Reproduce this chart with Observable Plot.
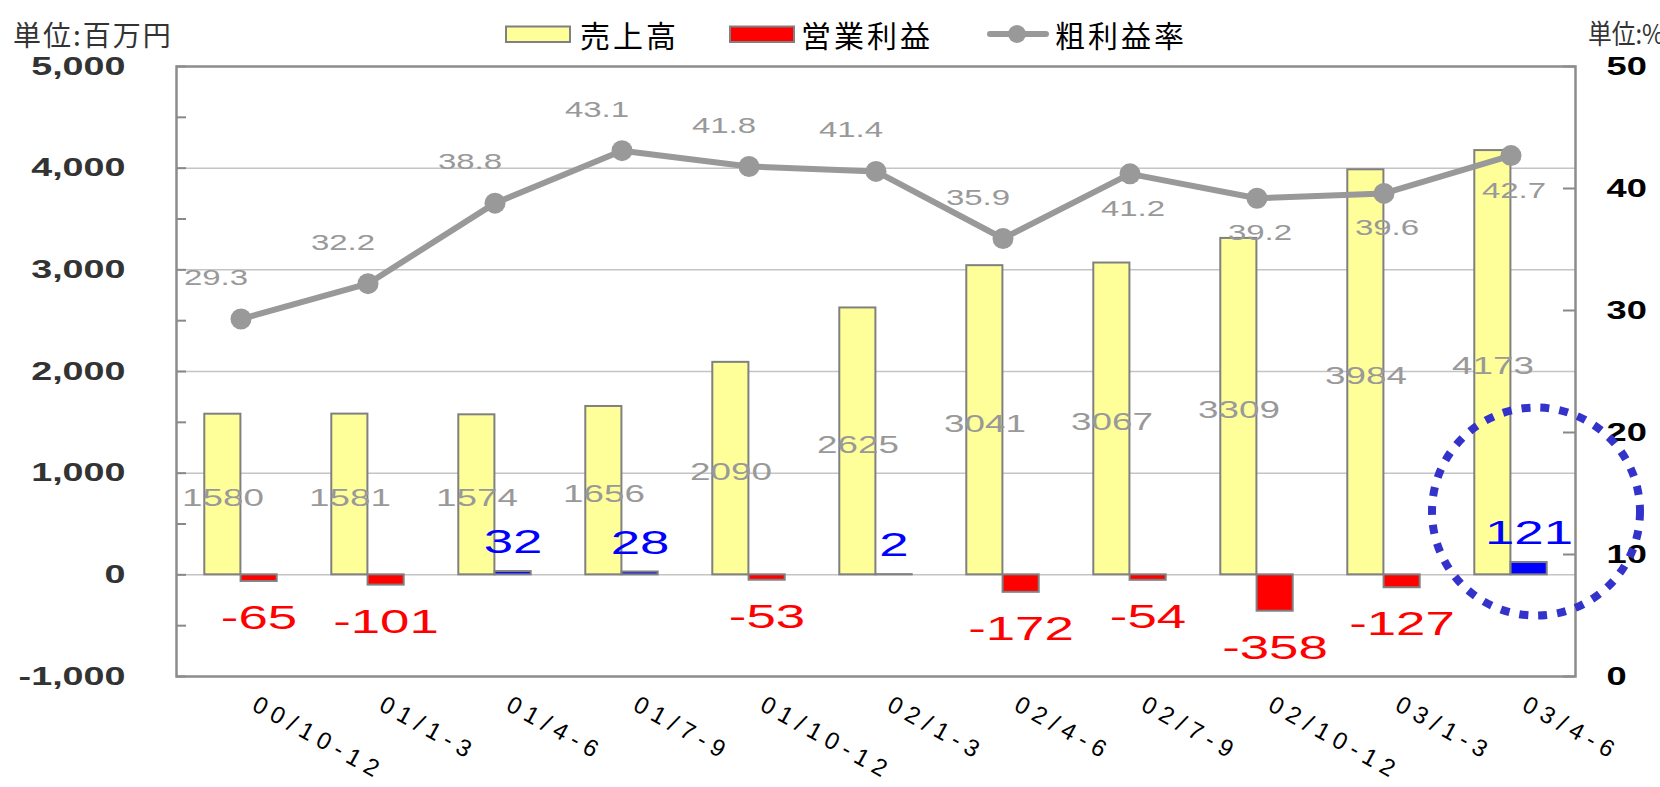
<!DOCTYPE html>
<html><head><meta charset="utf-8">
<script src="https://cdn.jsdelivr.net/npm/d3@7"></script>
<script src="https://cdn.jsdelivr.net/npm/@observablehq/plot@0.6"></script>
<style>
html,body{margin:0;padding:0;background:#fff;overflow:hidden;}
#wrap{position:relative;width:1660px;height:787px;overflow:hidden;}
#wrap svg{position:absolute;left:0;top:0;}
</style></head><body><div id="wrap"></div>
<script>
// ---- data ----
const categories = ["00/10-12","01/1-3","01/4-6","01/7-9","01/10-12","02/1-3","02/4-6","02/7-9","02/10-12","03/1-3","03/4-6"];
const sales = [1580,1581,1574,1656,2090,2625,3041,3067,3309,3984,4173];
const opProfit = [-65,-101,32,28,-53,2,-172,-54,-358,-127,121];
const grossMargin = [29.3,32.2,38.8,43.1,41.8,41.4,35.9,41.2,39.2,39.6,42.7];
const leftTicks = [-1000,0,1000,2000,3000,4000,5000];
const leftMinorTicks = [-1000,-500,0,500,1000,1500,2000,2500,3000,3500,4000,4500,5000];
const gridValues = [0,1000,2000,3000,4000];
const rightTicks = [0,10,20,30,40,50];
const marginLabelBelow = ["02/7-9","02/10-12","03/1-3","03/4-6"];
const highlight = "03/4-6";
const legendLabels = ["売上高","営業利益","粗利益率"];
const unitLeft = "単位:百万円";
const unitRight = "単位:%";

const rows = categories.map((c,i)=>({cat:c, sales:sales[i], op:opProfit[i], gm:grossMargin[i]}));

// ---- layout ----
const W = 1660, H = 787, mL = 176, mR = 85, mT = 66, mB = 111;
const FW = W - mL - mR;
const BW = FW / categories.length;
const barW = 36.3;
const toLeft = m => -1000 + m * 120;
const LAT = "Liberation Sans, Arial, sans-serif";

const chart = Plot.plot({
  width: W, height: H,
  marginLeft: mL, marginRight: mR, marginTop: mT, marginBottom: mB,
  x: {type: "band", domain: categories, padding: 0, axis: null},
  y: {domain: [-1000, 5000], label: null},
  style: {fontFamily: LAT, background: "white", overflow: "visible"},
  marks: [
    Plot.ruleY(gridValues, {stroke: "#c4c4c4", strokeWidth: 1.5}),
    Plot.ruleY(leftMinorTicks, {stroke: "#888", strokeWidth: 2, insetRight: FW - 10}),
    Plot.ruleY(rightTicks.map(toLeft), {stroke: "#888", strokeWidth: 2, insetLeft: FW - 12}),
    Plot.barY(rows, {x: "cat", y: "sales", fill: "#ffff99", stroke: "#808080", strokeWidth: 2,
      insetLeft: BW/2 - barW, insetRight: BW/2}),
    Plot.barY(rows, {x: "cat", y: "op", fill: d => d.op < 0 ? "#ff0000" : "#0000ff", stroke: "#808080", strokeWidth: 2,
      insetLeft: BW/2, insetRight: BW/2 - barW}),
    Plot.frame({stroke: "#8c8c8c", strokeWidth: 2.5}),
    Plot.line(rows, {x: "cat", y: d => toLeft(d.gm), stroke: "#999999", strokeWidth: 6}),
    Plot.dot(rows, {x: "cat", y: d => toLeft(d.gm), r: 10.5, fill: "#999999"}),
    // sales labels (middle of bar)
    Plot.text(rows, {x: "cat", y: d => d.sales / 2, text: d => String(d.sales), dx: -18, dy: 4,
      fill: "#999999", fontSize: 23, ariaLabel: () => "saleslab"}),
    // operating profit labels
    Plot.text(rows.filter(d => d.op < 0), {x: "cat", y: "op", text: d => String(d.op), dx: 18, dy: 37,
      fill: "#ff0000", fontSize: 33, ariaLabel: () => "oplab"}),
    Plot.text(rows.filter(d => d.op >= 0), {x: "cat", y: "op", text: d => String(d.op), dx: 18, dy: -29,
      fill: "#0000ff", fontSize: 33, ariaLabel: () => "oplab"}),
    // gross margin labels
    Plot.text(rows.filter(d => !marginLabelBelow.includes(d.cat)), {x: "cat", y: d => toLeft(d.gm), text: d => d.gm.toFixed(1),
      dx: -25, dy: -41, fill: "#999999", fontSize: 22, ariaLabel: () => "gmlab"}),
    Plot.text(rows.filter(d => marginLabelBelow.includes(d.cat)), {x: "cat", y: d => toLeft(d.gm), text: d => d.gm.toFixed(1),
      dx: 3, dy: 35, fill: "#999999", fontSize: 22, ariaLabel: () => "gmlab"}),
    // left axis
    Plot.axisY(leftTicks, {anchor: "left", tickSize: 0, tickPadding: 51, tickFormat: d => d.toLocaleString("en-US"),
      fontSize: 26, fontWeight: "bold", color: "#333333", label: null}),
    // right axis labels (percent), placed on the same y scale
    Plot.text(rightTicks, {y: d => toLeft(d), text: d => String(d), frameAnchor: "right", dx: 31, textAnchor: "start",
      fontSize: 25, fontWeight: "bold", fill: "#000000", ariaLabel: () => "rlab"}),
    // x labels
    Plot.text(categories, {x: d => d, frameAnchor: "bottom", dx: 18, dy: 18, rotate: 29, textAnchor: "start", lineAnchor: "top",
      fontSize: 24, fill: "#000000", ariaLabel: () => "xlab"}),
    // highlight circle
    Plot.dot(rows.filter(d => d.cat === highlight), {x: "cat", y: "op", r: 104, dx: 25, dy: -51,
      stroke: "#3333cc", strokeWidth: 8, strokeDasharray: "9,10", fill: "none", ariaLabel: () => "hl"})
  ]
});

const wrap = document.getElementById("wrap");
wrap.appendChild(chart);

// horizontal stretch of text glyphs around their anchor
function stretch(nodes, f) {
  nodes.forEach(t => {
    const tr = t.getAttribute("transform");
    if (tr) {
      t.setAttribute("transform", tr + ` scale(${f},1)`);
    } else {
      const w = t.getComputedTextLength();
      t.setAttribute("textLength", (w * f).toFixed(1));
      t.setAttribute("lengthAdjust", "spacingAndGlyphs");
    }
  });
}
stretch(chart.querySelectorAll('text[aria-label="saleslab"]'), 1.6);
stretch(chart.querySelectorAll('text[aria-label="oplab"]'), 1.6);
stretch(chart.querySelectorAll('text[aria-label="gmlab"]'), 1.5);
stretch(chart.querySelectorAll('g[aria-label="y-axis tick label"] text'), 1.45);
stretch(chart.querySelectorAll('text[aria-label="rlab"]'), 1.45);
chart.querySelectorAll('text[aria-label="xlab"]').forEach(t => t.style.letterSpacing = "6.5px");
chart.querySelectorAll('circle[aria-label="hl"]').forEach(c => {
  const tr = c.getAttribute("transform");
  if (tr) c.setAttribute("transform", tr + " scale(1.045,0.955)");
});

// ---- header: units and legend ----
const ov = d3.select(wrap).append("svg").attr("width", W).attr("height", 70)
  .style("pointer-events", "none");
const CJK = "Noto Sans CJK JP, sans-serif";
ov.append("text").attr("x", 13).attr("y", 34).attr("dominant-baseline", "central")
  .attr("font-family", CJK).attr("font-size", 28).attr("fill", "#333").style("letter-spacing", "2px").text(unitLeft);
ov.append("text").attr("x", 1588).attr("y", 32).attr("dominant-baseline", "central")
  .attr("font-family", CJK).attr("font-size", 27).attr("fill", "#333")
  .attr("textLength", 76).attr("lengthAdjust", "spacingAndGlyphs").text(unitRight);
ov.append("rect").attr("x", 506).attr("y", 26.5).attr("width", 64).attr("height", 15.5)
  .attr("fill", "#ffff99").attr("stroke", "#808080").attr("stroke-width", 2);
ov.append("rect").attr("x", 730).attr("y", 26.5).attr("width", 64).attr("height", 15.5)
  .attr("fill", "#ff0000").attr("stroke", "#808080").attr("stroke-width", 2);
ov.append("line").attr("x1", 990).attr("x2", 1046).attr("y1", 34).attr("y2", 34)
  .attr("stroke", "#999").attr("stroke-width", 6).attr("stroke-linecap", "round");
ov.append("circle").attr("cx", 1017).attr("cy", 34).attr("r", 9).attr("fill", "#999");
[[580, legendLabels[0]], [801, legendLabels[1]], [1055, legendLabels[2]]].forEach(([x, s]) => {
  ov.append("text").attr("x", x).attr("y", 34).attr("dominant-baseline", "central")
    .attr("font-family", CJK).attr("font-size", 30).attr("fill", "#000").style("letter-spacing", "3px").text(s);
});
</script></body></html>
